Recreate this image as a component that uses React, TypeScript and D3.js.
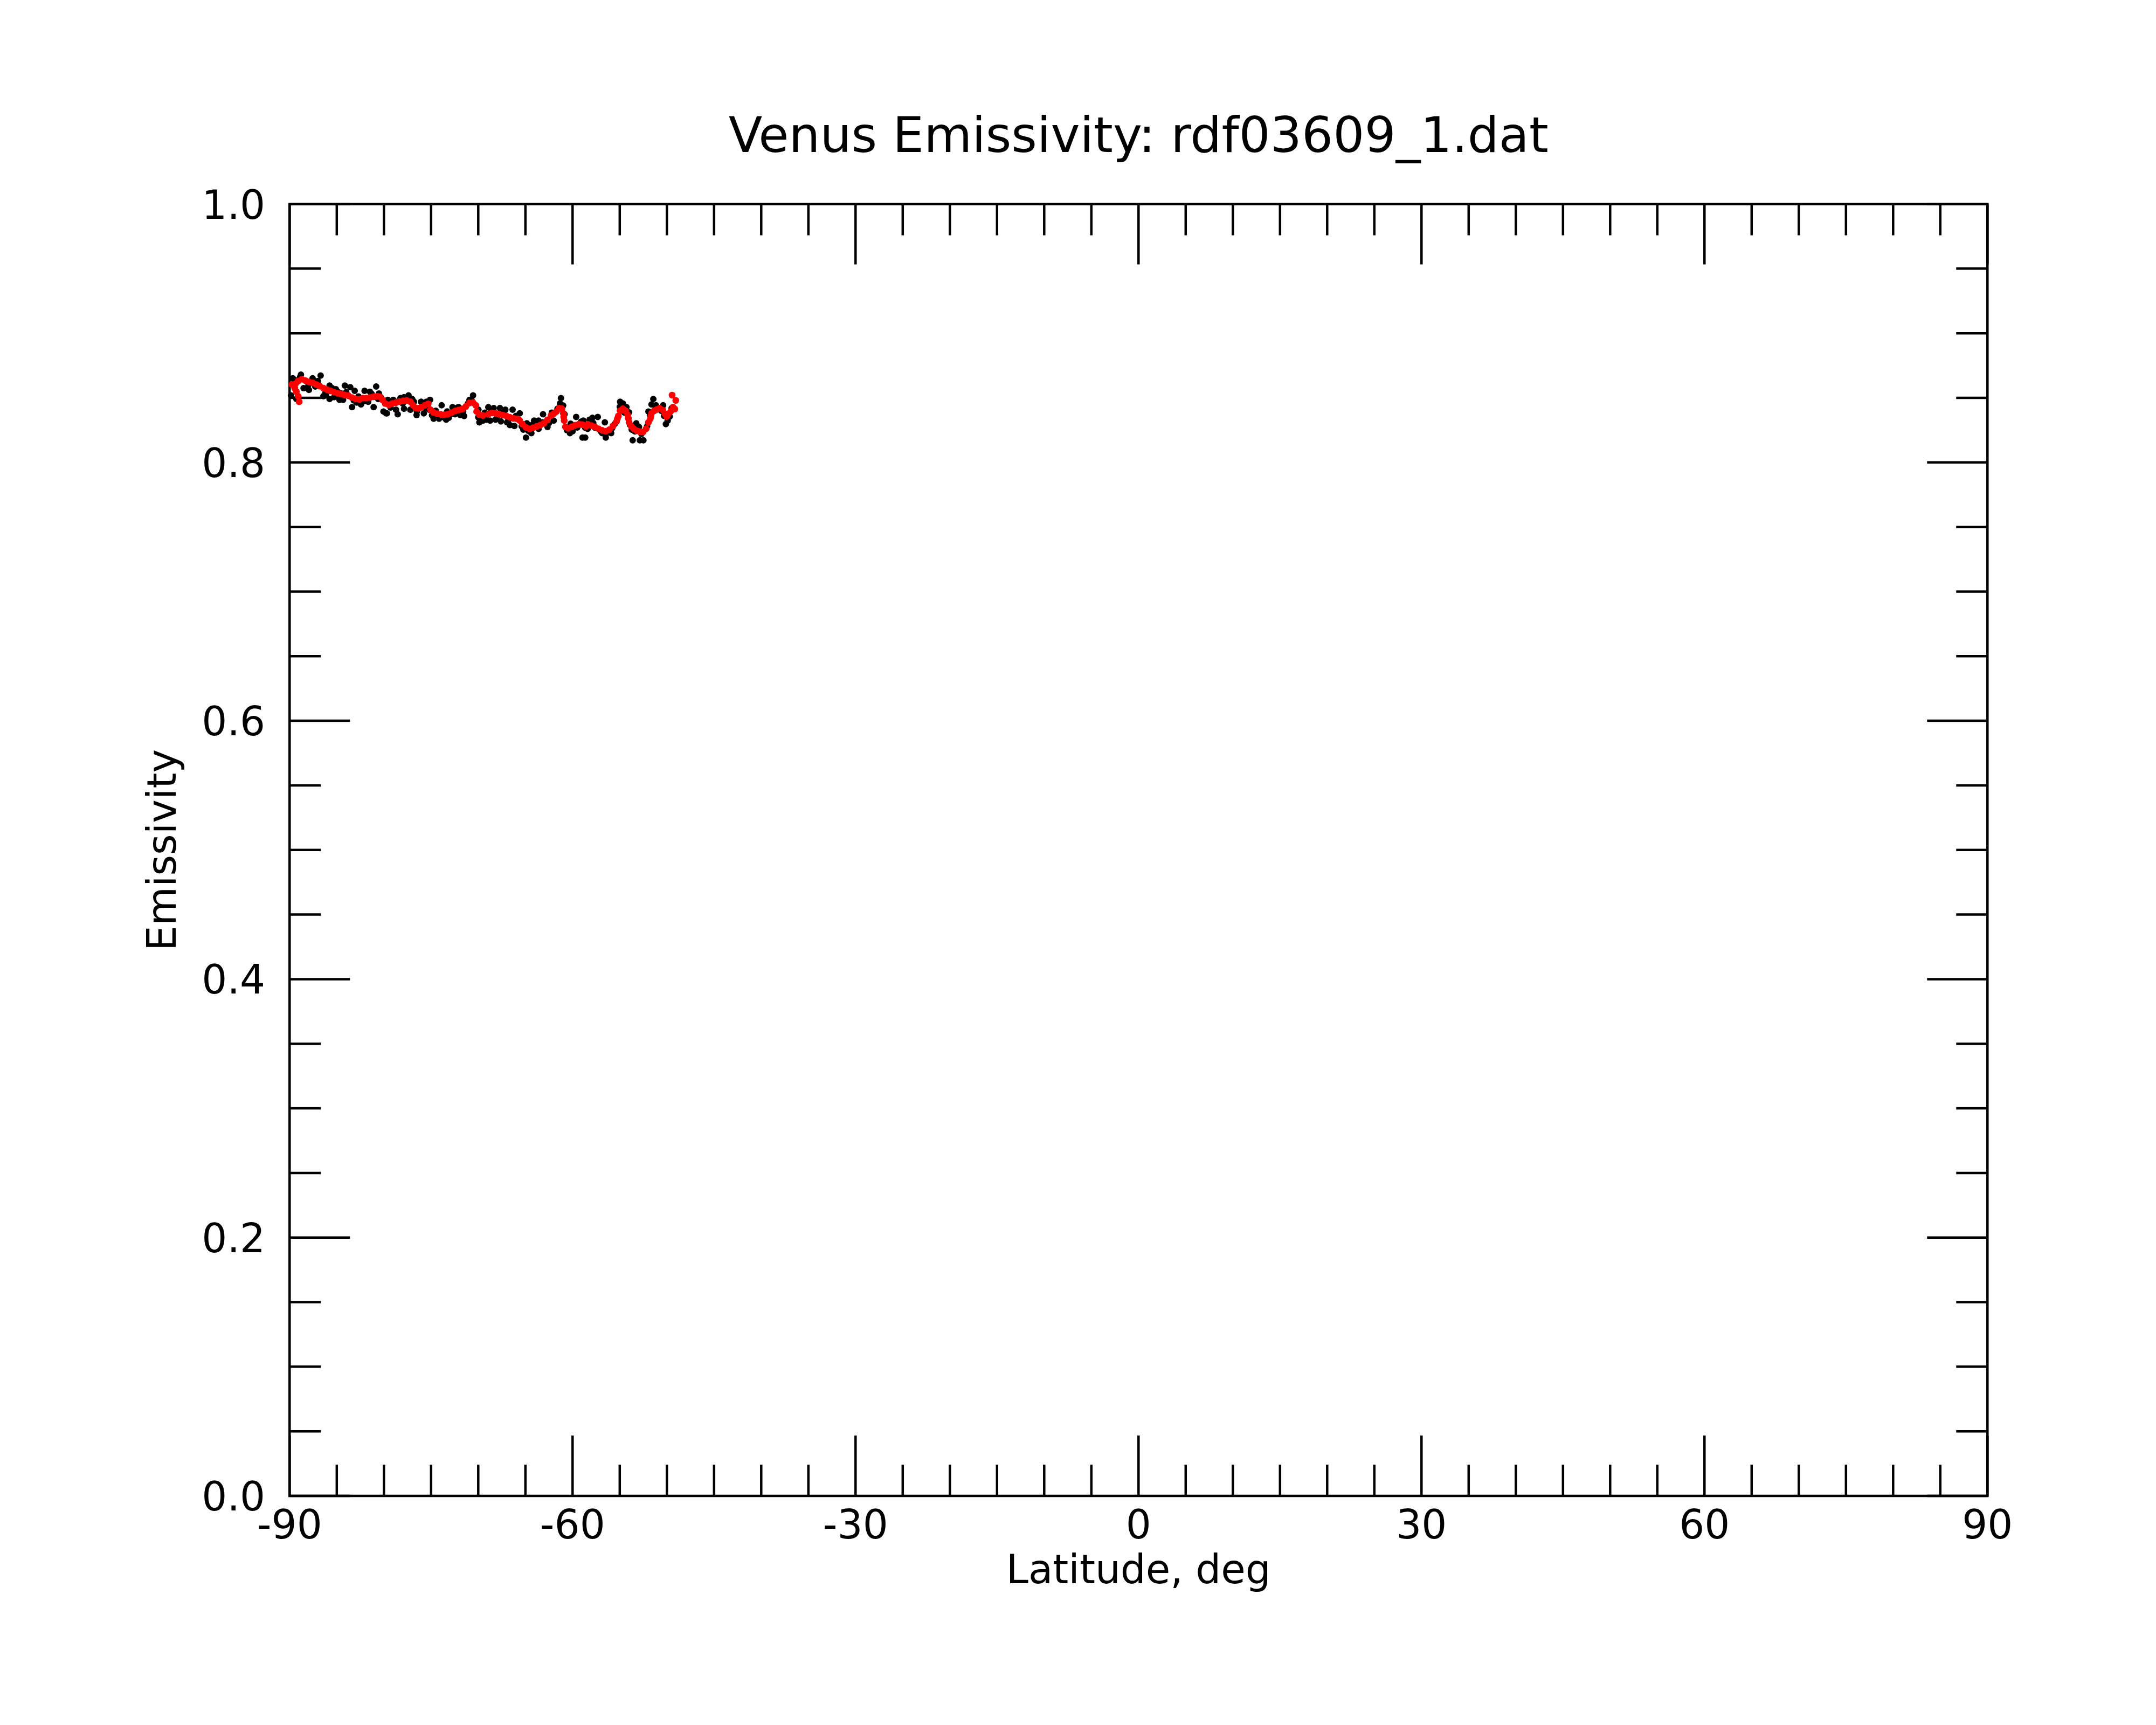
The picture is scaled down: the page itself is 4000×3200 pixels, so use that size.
import React from 'react';
import * as d3 from 'd3';

const title = 'Venus Emissivity: rdf03609_1.dat';
const xLabel = 'Latitude, deg';
const yLabel = 'Emissivity';
const xTickValues = [-90, -60, -30, 0, 30, 60, 90];
const xTickLabels = ['-90', '-60', '-30', '0', '30', '60', '90'];
const yTickValues = [0, 0.2, 0.4, 0.6, 0.8, 1.0];
const yTickLabels = ['0.0', '0.2', '0.4', '0.6', '0.8', '1.0'];

// black: raw samples
const blackLat = [
  -89.66, -88.80, -88.13, -87.56, -86.99, -86.71, -86.42, -85.76, -85.76, -85.09,
  -84.71, -84.33, -84.14, -83.86, -83.57, -83.38, -83.10, -82.43, -82.05, -81.67,
  -81.09, -80.82, -80.53, -80.05, -79.77, -89.85, -89.28, -88.52, -87.95, -87.28,
  -86.14, -85.28, -84.90, -84.52, -82.90, -81.48, -80.34,
  -79.58, -79.68, -79.01, -78.54, -78.25, -77.87, -77.39, -77.87, -76.82, -76.54,
  -76.06, -75.77, -75.11, -75.20, -74.73, -74.16, -73.88, -73.40, -73.12, -72.73,
  -72.07, -71.88, -71.50, -70.93, -70.55, -69.98, -69.88, -69.50, -69.12, -78.72,
  -77.20, -75.49, -72.45,
  -68.93, -68.36, -67.70, -67.13, -66.36, -65.60, -68.74, -68.17, -67.60, -66.65,
  -66.17, -65.22, -64.85, -64.94, -64.08, -63.61, -63.13, -62.66, -62.00, -61.23,
  -61.33, -60.85, -60.28, -59.62, -58.95, -58.86, -58.66, -60.00, -64.37, -66.94,
  -58.66, -58.19, -57.90, -57.33, -56.58, -56.48, -55.91, -54.96, -54.67, -54.29,
  -54.01, -53.63, -53.25, -52.96, -52.87, -52.49, -51.44, -51.63, -51.16, -50.40,
  -49.92, -50.11, -49.82, -57.62, -56.86, -53.73, -51.96,
  -89.50, -88.90, -88.00, -87.00, -86.20, -85.50, -84.80, -84.00, -83.20, -82.70,
  -82.00, -81.30, -80.60, -79.30, -78.90, -78.00, -77.00, -76.50, -75.90, -75.50,
  -74.90, -74.50, -73.70, -73.30, -72.60, -72.20, -71.60, -71.10, -70.70, -70.00,
  -69.30, -68.60, -68.00, -67.30, -66.80, -66.00, -65.40, -64.70, -64.30, -63.60,
  -63.20, -62.50, -62.20, -61.60, -61.00, -60.60, -60.20, -59.50, -59.10, -58.40,
  -57.80, -57.00, -56.30, -55.80, -55.50, -55.00, -54.50, -53.90, -53.40, -52.70,
  -52.10, -51.80, -51.20, -50.60, -50.30, -49.70, -49.50,
];
const blackEmis = [
  0.8651, 0.8679, 0.8575, 0.8651, 0.8609, 0.8672, 0.8512, 0.8491, 0.8595, 0.8567,
  0.8484, 0.8484, 0.8595, 0.8519, 0.8582, 0.8428, 0.8554, 0.8449, 0.8554, 0.8470,
  0.8428, 0.8588, 0.8533, 0.8394, 0.8380, 0.8519, 0.8491, 0.8575, 0.8561, 0.8588,
  0.8519, 0.8505, 0.8547, 0.8533, 0.8463, 0.8547, 0.8505,
  0.8484, 0.8380, 0.8484, 0.8373, 0.8498, 0.8505, 0.8519, 0.8415, 0.8470, 0.8366,
  0.8470, 0.8380, 0.8484, 0.8408, 0.8338, 0.8338, 0.8442, 0.8331, 0.8345, 0.8428,
  0.8428, 0.8366, 0.8359, 0.8484, 0.8519, 0.8408, 0.8310, 0.8324, 0.8331, 0.8408,
  0.8408, 0.8421, 0.8373,
  0.8428, 0.8421, 0.8421, 0.8408, 0.8408, 0.8380, 0.8324, 0.8331, 0.8317, 0.8289,
  0.8282, 0.8254, 0.8303, 0.8192, 0.8324, 0.8324, 0.8373, 0.8275, 0.8324, 0.8498,
  0.8456, 0.8373, 0.8227, 0.8352, 0.8192, 0.8324, 0.8268, 0.8241, 0.8227, 0.8310,
  0.8192, 0.8331, 0.8345, 0.8352, 0.8310, 0.8192, 0.8227, 0.8470, 0.8456, 0.8428,
  0.8387, 0.8171, 0.8303, 0.8275, 0.8171, 0.8171, 0.8491, 0.8449, 0.8442, 0.8442,
  0.8324, 0.8296, 0.8373, 0.8268, 0.8227, 0.8254, 0.8394,
  0.8640, 0.8660, 0.8600, 0.8630, 0.8540, 0.8575, 0.8510, 0.8545, 0.8480, 0.8510,
  0.8475, 0.8530, 0.8490, 0.8425, 0.8475, 0.8455, 0.8490, 0.8395, 0.8445, 0.8470,
  0.8365, 0.8400, 0.8350, 0.8395, 0.8375, 0.8425, 0.8395, 0.8455, 0.8480, 0.8350,
  0.8385, 0.8400, 0.8355, 0.8385, 0.8330, 0.8360, 0.8280, 0.8245, 0.8290, 0.8260,
  0.8310, 0.8305, 0.8385, 0.8415, 0.8440, 0.8250, 0.8300, 0.8270, 0.8315, 0.8260,
  0.8305, 0.8240, 0.8230, 0.8265, 0.8300, 0.8430, 0.8385, 0.8290, 0.8240, 0.8220,
  0.8280, 0.8365, 0.8430, 0.8400, 0.8360, 0.8355, 0.8420,
];

// red: smoothed samples
const redLat = [
  -89.75, -89.46, -89.37, -89.28, -89.09, -88.99, -89.09, -88.71, -88.32, -87.95,
  -87.56, -87.18, -86.81, -86.42, -86.04, -85.67, -85.28, -84.90, -84.52, -84.14,
  -83.76, -83.38, -83.00, -82.62, -82.24, -81.86, -81.48, -81.10, -80.72, -80.43,
  -80.15, -79.86, -79.48, -79.11, -78.72, -78.34, -77.96, -77.58, -77.20, -76.92,
  -76.63, -76.35, -76.06, -75.68, -75.30, -75.07, -74.74, -74.35, -73.97, -73.59,
  -73.21, -72.83, -72.45, -72.07, -71.69, -71.31, -70.93, -70.55, -70.26, -70.17,
  -69.88, -69.50, -68.93, -68.55, -68.17, -67.79, -67.41, -67.03, -66.65, -66.27,
  -65.89, -65.60, -65.32, -64.94, -64.56, -64.18, -63.80, -63.42, -63.04, -62.66,
  -62.28, -62.00, -61.71, -61.42, -61.14, -60.98, -60.94, -60.89, -60.76, -60.47,
  -60.09, -59.71, -59.33, -58.95, -58.57, -58.38, -58.00, -57.62, -57.24, -56.86,
  -56.48, -56.10, -55.72, -55.34, -55.25, -55.15, -54.96, -54.67, -54.39, -54.16,
  -54.08, -54.01, -53.78, -53.51, -53.21, -52.87, -52.53, -52.20, -51.96, -51.76,
  -51.70, -51.63, -51.35, -51.06, -50.78, -50.43, -50.21, -50.02, -49.82, -49.59,
  -49.35, -49.16, -49.06, -49.45,
];
const redEmis = [
  0.8603, 0.8575, 0.8609, 0.8547, 0.8512, 0.8470, 0.8630, 0.8644, 0.8633, 0.8623,
  0.8616, 0.8603, 0.8591, 0.8575, 0.8563, 0.8554, 0.8544, 0.8536, 0.8530, 0.8522,
  0.8516, 0.8502, 0.8491, 0.8487, 0.8498, 0.8498, 0.8502, 0.8508, 0.8512, 0.8508,
  0.8484, 0.8456, 0.8446, 0.8456, 0.8463, 0.8470, 0.8477, 0.8480, 0.8470, 0.8442,
  0.8421, 0.8419, 0.8427, 0.8441, 0.8454, 0.8408, 0.8387, 0.8377, 0.8371, 0.8369,
  0.8373, 0.8385, 0.8399, 0.8406, 0.8413, 0.8433, 0.8461, 0.8463, 0.8442, 0.8394,
  0.8369, 0.8363, 0.8373, 0.8383, 0.8380, 0.8373, 0.8366, 0.8360, 0.8349, 0.8341,
  0.8338, 0.8324, 0.8296, 0.8271, 0.8260, 0.8268, 0.8279, 0.8289, 0.8303, 0.8330,
  0.8363, 0.8377, 0.8394, 0.8419, 0.8415, 0.8380, 0.8352, 0.8324, 0.8275, 0.8264,
  0.8275, 0.8288, 0.8296, 0.8292, 0.8279, 0.8294, 0.8285, 0.8274, 0.8260, 0.8248,
  0.8241, 0.8254, 0.8282, 0.8317, 0.8338, 0.8359, 0.8400, 0.8415, 0.8400, 0.8368,
  0.8340, 0.8310, 0.8279, 0.8260, 0.8246, 0.8238, 0.8236, 0.8261, 0.8310, 0.8338,
  0.8358, 0.8380, 0.8400, 0.8410, 0.8419, 0.8405, 0.8377, 0.8355, 0.8377, 0.8396,
  0.8428, 0.8413, 0.8480, 0.8521,
];

const W = 4000;
const H = 3200;
const left = 537.3;
const right = 3687.3;
const top = 378.5;
const bottom = 2775;
const FONT = '"DejaVu Sans", Verdana, sans-serif';
const SW = 4.5;
const MAJ = 112;
const MIN = 58;

export default function App() {
  const x = d3.scaleLinear().domain([-90, 90]).range([left, right]);
  const y = d3.scaleLinear().domain([0, 1]).range([bottom, top]);

  const xMinor = d3.range(-90, 90.001, 5).filter((v) => !xTickValues.some((t) => Math.abs(t - v) < 1e-6));
  const yMinor = d3.range(0, 1.0001, 0.05).filter((v) => !yTickValues.some((t) => Math.abs(t - v) < 1e-6));

  const black = blackLat.map((lat, i) => [lat, blackEmis[i]] as [number, number]);
  const red = redLat.map((lat, i) => [lat, redEmis[i]] as [number, number]);

  const cx = (left + right) / 2;
  const cy = (top + bottom) / 2;

  return (
    <svg
      width={W}
      height={H}
      viewBox={`0 0 ${W} ${H}`}
      style={{ position: 'absolute', left: 0, top: 0, background: '#fff' }}
      fontFamily={FONT}
    >
      <rect x={0} y={0} width={W} height={H} fill="#fff" />
      <text x={cx} y={282} fontSize={91.5} textAnchor="middle" fill="#000">
        {title}
      </text>

      <g stroke="#000" strokeWidth={SW} strokeLinecap="butt">
        {xTickValues.map((t) => (
          <g key={'xt' + t}>
            <line x1={x(t)} x2={x(t)} y1={bottom} y2={bottom - MAJ} />
            <line x1={x(t)} x2={x(t)} y1={top} y2={top + MAJ} />
          </g>
        ))}
        {xMinor.map((t) => (
          <g key={'xm' + t}>
            <line x1={x(t)} x2={x(t)} y1={bottom} y2={bottom - MIN} />
            <line x1={x(t)} x2={x(t)} y1={top} y2={top + MIN} />
          </g>
        ))}
        {yTickValues.map((t) => (
          <g key={'yt' + t}>
            <line x1={left} x2={left + MAJ} y1={y(t)} y2={y(t)} />
            <line x1={right} x2={right - MAJ} y1={y(t)} y2={y(t)} />
          </g>
        ))}
        {yMinor.map((t) => (
          <g key={'ym' + t}>
            <line x1={left} x2={left + MIN} y1={y(t)} y2={y(t)} />
            <line x1={right} x2={right - MIN} y1={y(t)} y2={y(t)} />
          </g>
        ))}
        <rect x={left} y={top} width={right - left} height={bottom - top} fill="none" />
      </g>

      <g fill="#000">
        {black.map((d, i) => (
          <circle key={'b' + i} cx={x(d[0])} cy={y(d[1])} r={6} />
        ))}
      </g>
      <g fill="#ff0000">
        {red.map((d, i) => (
          <circle key={'r' + i} cx={x(d[0])} cy={y(d[1])} r={6.3} />
        ))}
      </g>

      <g fontSize={74} fill="#000">
        {xTickValues.map((t, i) => (
          <text key={'xl' + t} x={x(t)} y={2854} textAnchor="middle">
            {xTickLabels[i]}
          </text>
        ))}
        {yTickValues.map((t, i) => (
          <text key={'yl' + t} x={492} y={y(t) + 27} textAnchor="end">
            {yTickLabels[i]}
          </text>
        ))}
        <text x={cx} y={2937} textAnchor="middle">
          {xLabel}
        </text>
        <text x={326} y={cy} textAnchor="middle" transform={`rotate(-90 326 ${cy})`}>
          {yLabel}
        </text>
      </g>
    </svg>
  );
}
